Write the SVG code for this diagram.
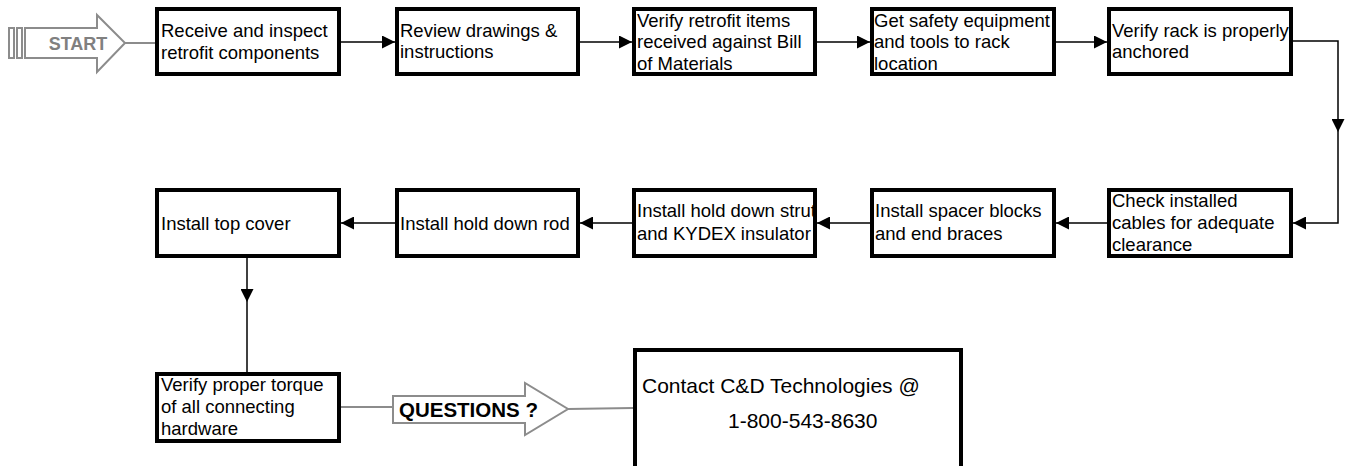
<svg xmlns="http://www.w3.org/2000/svg" width="1347" height="466" viewBox="0 0 1347 466">
<style>
.box{fill:#fff;stroke:#000;stroke-width:4}
.t{font-family:"Liberation Sans",Arial,sans-serif;font-size:18.5px;fill:#000}
.conn{fill:none;stroke:#000;stroke-width:1.5}
.g{fill:#fff;stroke:#8c8c8c;stroke-width:2}
.gl{fill:none;stroke:#8c8c8c;stroke-width:2}
</style>
<defs>
<marker id="ah" viewBox="0 0 13 13" refX="13" refY="6.5" markerWidth="13" markerHeight="13" markerUnits="userSpaceOnUse" orient="auto">
<path d="M0,0 L13,6.5 L0,13 z" fill="#000"/>
</marker>
<clipPath id="c5"><rect x="1109" y="9" width="182" height="65"/></clipPath>
<clipPath id="c8"><rect x="634" y="190" width="181" height="66"/></clipPath>
</defs>

<g id="start">
<rect class="g" x="9" y="28" width="5" height="30"/>
<rect class="g" x="17" y="28" width="5" height="30"/>
<polygon class="g" points="25,28 97,28 97,15 125,43 97,72 97,58 25,58"/>
<text x="78" y="50" text-anchor="middle" style="font-family:'Liberation Sans',Arial,sans-serif;font-size:18px;font-weight:bold;fill:#808080">START</text>
</g>

<g id="connectors">
<line class="gl" x1="125" y1="43" x2="156" y2="43"/>
<path class="conn" d="M341,42 H395" marker-end="url(#ah)"/>
<path class="conn" d="M580,42 H632" marker-end="url(#ah)"/>
<path class="conn" d="M817,42 H870" marker-end="url(#ah)"/>
<path class="conn" d="M1056,42 H1107" marker-end="url(#ah)"/>
<path class="conn" d="M1293,41 H1338 V132" marker-end="url(#ah)"/>
<path class="conn" d="M1338,132 V223 H1293" marker-end="url(#ah)"/>
<path class="conn" d="M1107,223 H1056" marker-end="url(#ah)"/>
<path class="conn" d="M870,223 H817" marker-end="url(#ah)"/>
<path class="conn" d="M632,223 H580" marker-end="url(#ah)"/>
<path class="conn" d="M395,223 H341" marker-end="url(#ah)"/>
<path class="conn" d="M247,258 V302" marker-end="url(#ah)"/>
<path class="conn" d="M247,302 V372"/>
<line class="gl" x1="341" y1="407" x2="393" y2="407"/>
<line class="gl" x1="568" y1="409" x2="633" y2="408"/>
</g>

<g id="n1"><rect class="box" x="157" y="9" width="182" height="65"/>
<text class="t" x="161" y="37">Receive and inspect</text><text class="t" x="161" y="59">retrofit components</text></g>
<g id="n2"><rect class="box" x="397" y="9" width="181" height="65"/>
<text class="t" x="400" y="37">Review drawings &amp;</text><text class="t" x="400" y="58">instructions</text></g>
<g id="n3"><rect class="box" x="634" y="9" width="181" height="65"/>
<text class="t" x="637" y="27">Verify retrofit items</text><text class="t" x="637" y="48">received against Bill</text><text class="t" x="637" y="70">of Materials</text></g>
<g id="n4"><rect class="box" x="872" y="9" width="182" height="65"/>
<text class="t" x="874" y="27">Get safety equipment</text><text class="t" x="874" y="48">and tools to rack</text><text class="t" x="874" y="70">location</text></g>
<g id="n5"><rect class="box" x="1109" y="9" width="182" height="65"/>
<g clip-path="url(#c5)"><text class="t" x="1112" y="37">Verify rack is properly</text><text class="t" x="1112" y="58">anchored</text></g></g>

<g id="n6"><rect class="box" x="1109" y="190" width="182" height="66"/>
<text class="t" x="1112" y="207">Check installed</text><text class="t" x="1112" y="229">cables for adequate</text><text class="t" x="1112" y="251">clearance</text></g>
<g id="n7"><rect class="box" x="872" y="190" width="182" height="66"/>
<text class="t" x="875" y="217">Install spacer blocks</text><text class="t" x="875" y="240">and end braces</text></g>
<g id="n8"><rect class="box" x="634" y="190" width="181" height="66"/>
<g clip-path="url(#c8)"><text class="t" x="637" y="217">Install hold down strut</text><text class="t" x="637" y="240">and KYDEX insulator</text></g></g>
<g id="n9"><rect class="box" x="397" y="190" width="181" height="66"/>
<text class="t" x="400" y="230">Install hold down rod</text></g>
<g id="n10"><rect class="box" x="157" y="190" width="182" height="66"/>
<text class="t" x="161" y="230">Install top cover</text></g>

<g id="n11"><rect class="box" x="157" y="374" width="182" height="67"/>
<text class="t" x="161" y="391">Verify proper torque</text><text class="t" x="161" y="413">of all connecting</text><text class="t" x="161" y="435">hardware</text></g>

<g id="questions">
<polygon class="g" points="393,396 525,396 525,383 568,409 525,435 525,423 393,423"/>
<text x="399" y="417" style="font-family:'Liberation Sans',Arial,sans-serif;font-size:20.5px;font-weight:bold;fill:#000">QUESTIONS ?</text>
</g>

<g id="contact"><rect class="box" x="635" y="350" width="326" height="130"/>
<text x="642" y="393" style="font-family:'Liberation Sans',Arial,sans-serif;font-size:21px;fill:#000">Contact C&amp;D Technologies @</text>
<text x="728" y="428" style="font-family:'Liberation Sans',Arial,sans-serif;font-size:21px;fill:#000">1-800-543-8630</text></g>
</svg>
